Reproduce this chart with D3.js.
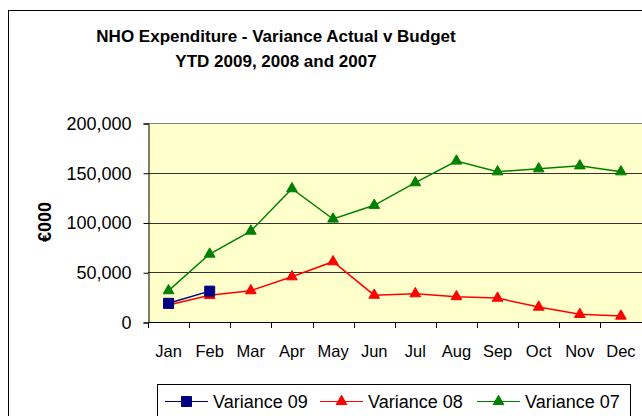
<!DOCTYPE html>
<html>
<head>
<meta charset="utf-8">
<script src="https://cdn.jsdelivr.net/npm/d3@7"></script>
<style>
  body { margin: 0; background: #fff; }
  text { font-family: "Liberation Sans", Arial, sans-serif; fill: #000; }
</style>
</head>
<body>
<div id="chart"></div>
<script>
// Chart data
var months = ["Jan", "Feb", "Mar", "Apr", "May", "Jun", "Jul", "Aug", "Sep", "Oct", "Nov", "Dec"];
var variance09 = [18800, 31000];
var variance08 = [17000, 26800, 31500, 45500, 60600, 27000, 28500, 25500, 24000, 15000, 7700, 6000];
var variance07 = [31500, 68300, 91400, 134000, 103500, 117300, 140000, 161800, 151000, 154000, 157000, 151000];
var yTicks = [0, 50000, 100000, 150000, 200000];

var svgWidth = 642;
var svgHeight = 416;

var svg = d3.select("#chart")
  .append("svg")
  .attr("width", svgWidth)
  .attr("height", svgHeight);

// Outer chart border (right side runs off the picture)
svg.append("rect")
  .attr("x", 8.5)
  .attr("y", 10.5)
  .attr("width", 700)
  .attr("height", 500)
  .attr("fill", "#fff")
  .attr("stroke", "#000");

// Title
svg.append("text")
  .attr("x", 276)
  .attr("y", 42)
  .attr("text-anchor", "middle")
  .attr("font-size", "17px")
  .attr("font-weight", "bold")
  .text("NHO Expenditure - Variance Actual v Budget");

svg.append("text")
  .attr("x", 276)
  .attr("y", 67)
  .attr("text-anchor", "middle")
  .attr("font-size", "17px")
  .attr("font-weight", "bold")
  .text("YTD 2009, 2008 and 2007");

// Plot area
var plot = { left: 148, top: 123, right: 641.5, bottom: 322 };

var xScale = d3.scaleBand()
  .domain(months)
  .range([plot.left, plot.right]);

var yScale = d3.scaleLinear()
  .domain([0, 200000])
  .range([plot.bottom, plot.top]);

svg.append("rect")
  .attr("x", plot.left)
  .attr("y", plot.top)
  .attr("width", plot.right - plot.left + 5)
  .attr("height", plot.bottom - plot.top)
  .attr("fill", "#FFFFCC");

// Gridlines
svg.append("g")
  .selectAll("line")
  .data(yTicks.slice(1))
  .enter()
  .append("line")
  .attr("x1", plot.left)
  .attr("x2", svgWidth)
  .attr("y1", d => Math.round(yScale(d)) + 0.5)
  .attr("y2", d => Math.round(yScale(d)) + 0.5)
  .attr("stroke", d => d === 200000 ? "#808080" : "#333")
  .attr("stroke-width", 1);

// Axes
var leftAxis = d3.axisLeft(yScale)
  .tickValues(yTicks)
  .tickSize(5)
  .tickPadding(12)
  .tickFormat(d3.format(","));

var yAxisG = svg.append("g")
  .attr("transform", `translate(${plot.left + 0.5}, 0.5)`)
  .call(leftAxis);
yAxisG.selectAll("text")
  .attr("font-size", "18px")
  .attr("font-family", "Liberation Sans, Arial, sans-serif")
  .attr("fill", "#000");
yAxisG.selectAll("path, line").attr("stroke", "#000");

var bottomAxis = d3.axisBottom(xScale)
  .tickSize(0)
  .tickPadding(23);

var xAxisG = svg.append("g")
  .attr("transform", `translate(0, ${plot.bottom + 0.5})`)
  .call(bottomAxis);
xAxisG.select("path").attr("stroke", "#000").attr("d", `M${plot.left},0H${svgWidth}`);
xAxisG.selectAll("text")
  .attr("font-size", "16.5px")
  .attr("font-family", "Liberation Sans, Arial, sans-serif")
  .attr("fill", "#000");

// Category boundary ticks
svg.append("g")
  .selectAll("line")
  .data(months)
  .enter()
  .append("line")
  .attr("x1", d => Math.round(xScale(d)) + 0.5)
  .attr("x2", d => Math.round(xScale(d)) + 0.5)
  .attr("y1", plot.bottom)
  .attr("y2", plot.bottom + 6)
  .attr("stroke", "#000");

// Y axis label
svg.append("text")
  .attr("transform", "translate(51, 222) rotate(-90)")
  .attr("text-anchor", "middle")
  .attr("font-size", "18px")
  .attr("font-weight", "bold")
  .text("€000");

// Series
var series = [
  { name: "Variance 09", values: variance09, color: "#000080", marker: "square" },
  { name: "Variance 08", values: variance08, color: "#FF0000", marker: "triangle" },
  { name: "Variance 07", values: variance07, color: "#008000", marker: "triangle" }
];

var cx = (d, i) => xScale(months[i]) + xScale.bandwidth() / 2;

var line = d3.line()
  .x((d, i) => cx(d, i))
  .y(d => yScale(d));

var squareSym = d3.symbol().type(d3.symbolSquare).size(100);
var triSym = d3.symbol().type(d3.symbolTriangle).size(50);

// draw 07 first, then 08, then 09 on top
series.slice().reverse().forEach(function(s) {
  svg.append("path")
    .datum(s.values)
    .attr("d", line)
    .attr("fill", "none")
    .attr("stroke", s.color)
    .attr("stroke-width", 1.5);

  svg.selectAll(null)
    .data(s.values)
    .enter()
    .append("path")
    .attr("d", s.marker === "square" ? squareSym : triSym)
    .attr("transform", (d, i) => `translate(${cx(d, i)}, ${yScale(d)})`)
    .attr("fill", s.color)
    .attr("stroke", s.color)
    .attr("stroke-width", 1);
});

// Legend
svg.append("rect")
  .attr("x", 157.5)
  .attr("y", 384.5)
  .attr("width", 473)
  .attr("height", 60)
  .attr("fill", "#fff")
  .attr("stroke", "#000");

var legendX = [165, 320, 477];

series.forEach(function(s, i) {
  var lx = legendX[i];
  svg.append("line")
    .attr("x1", lx)
    .attr("x2", lx + 43)
    .attr("y1", 401.5)
    .attr("y2", 401.5)
    .attr("stroke", s.color)
    .attr("stroke-width", 1.2);

  svg.append("path")
    .attr("d", s.marker === "square" ? squareSym : triSym)
    .attr("transform", `translate(${lx + 21.5}, 401.5)`)
    .attr("fill", s.color)
    .attr("stroke", s.color);

  svg.append("text")
    .attr("x", lx + 48)
    .attr("y", 407.5)
    .attr("font-size", "18px")
    .text(s.name);
});
</script>
</body>
</html>
